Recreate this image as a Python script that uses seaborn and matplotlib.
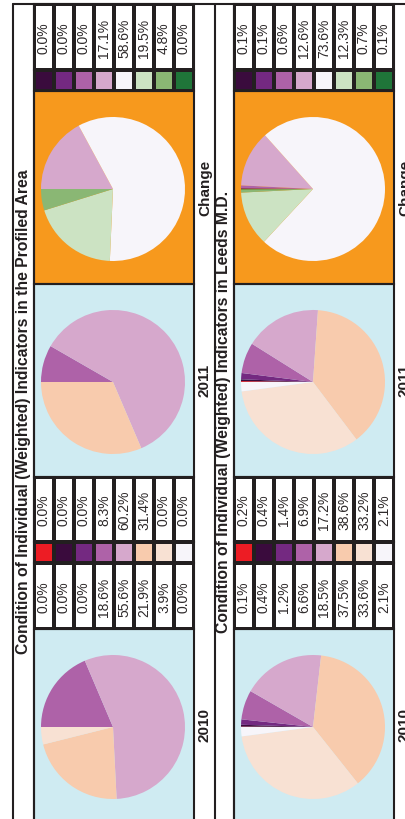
import numpy as np
import matplotlib
matplotlib.use('Agg')
import matplotlib.pyplot as plt
from matplotlib.colors import ListedColormap
from matplotlib.patches import Rectangle
import seaborn as sns

sns.set_theme(style='white')
plt.rcParams['font.family'] = ['Liberation Sans', 'DejaVu Sans']

W, H = 406, 820
inkColour = '#231F20'

# category colours (condition bands and change bands)
conditionColours = ['#ED1C24', '#3A0B3D', '#742981', '#AE62A8', '#D6A8CC', '#F8CBAD', '#F8E1D3', '#F7F5FA']
changeColours = ['#3A0B3D', '#742981', '#AE62A8', '#D6A8CC', '#F7F5FA', '#CCE3C3', '#8AB774', '#1F7539']

# percentages per band
profiled2010 = [0.0, 0.0, 0.0, 18.6, 55.6, 21.9, 3.9, 0.0]
profiled2011 = [0.0, 0.0, 0.0, 8.3, 60.2, 31.4, 0.0, 0.0]
profiledChange = [0.0, 0.0, 0.0, 17.1, 58.6, 19.5, 4.8, 0.0]
leeds2010 = [0.1, 0.4, 1.2, 6.6, 18.5, 37.5, 33.6, 2.1]
leeds2011 = [0.2, 0.4, 1.4, 6.9, 17.2, 38.6, 33.2, 2.1]
leedsChange = [0.1, 0.1, 0.6, 12.6, 73.6, 12.3, 0.7, 0.1]

panelTitles = ['Condition of Individual (Weighted) Indicators in the Profiled Area',
               'Condition of Individual (Weighted) Indicators in Leeds M.D.']
pieLabels = ['2010', '2011', 'Change']

panels = [
    {'title': panelTitles[0], 'y2010': profiled2010, 'y2011': profiled2011, 'change': profiledChange, 'dx': 0},
    {'title': panelTitles[1], 'y2010': leeds2010, 'y2011': leeds2011, 'change': leedsChange, 'dx': 200},
]

fig = plt.figure(figsize=(W / 100, H / 100), dpi=100)


def addAxes(x0, y0, x1, y1, z=1):
    # pixel box (y measured from the top) -> figure axes
    return fig.add_axes([x0 / W, 1 - y1 / H, (x1 - x0) / W, (y1 - y0) / H], zorder=z)


bg = addAxes(0, 0, W, H, z=0)
bg.set_xlim(0, W)
bg.set_ylim(H, 0)
bg.axis('off')

fg = addAxes(0, 0, W, H, z=10)
fg.set_xlim(0, W)
fg.set_ylim(H, 0)
fg.axis('off')
fg.patch.set_alpha(0)


def drawValues(vals, box):
    ax = addAxes(*box, z=2)
    labels = np.array([[f'{v:.1f}%' for v in vals]])
    sns.heatmap(np.zeros((1, len(vals))), ax=ax, cmap=ListedColormap(['white']), cbar=False,
                annot=labels, fmt='', linewidths=1.5, linecolor=inkColour,
                xticklabels=False, yticklabels=False,
                annot_kws={'rotation': 90, 'fontsize': 10, 'color': '#2E2A2B'})


def drawSwatches(colours, box):
    ax = addAxes(*box, z=2)
    sns.heatmap(np.arange(len(colours)).reshape(1, -1), ax=ax, cmap=ListedColormap(colours),
                vmin=-0.5, vmax=len(colours) - 0.5, cbar=False, linewidths=1.5, linecolor=inkColour,
                xticklabels=False, yticklabels=False)


def drawPie(vals, colours, cx, cy, r=72):
    ax = addAxes(cx - r, cy - r, cx + r, cy + r, z=3)
    ax.pie(vals, colors=colours, startangle=180, counterclock=False,
           wedgeprops={'linewidth': 0}, radius=1)
    ax.set_xlim(-1, 1)
    ax.set_ylim(-1, 1)
    ax.axis('off')


for p in panels:
    dx = p['dx']
    x0, x1 = 34 + dx, 194 + dx
    boxes = {'Change': (92, 285, '#F7991D'), '2011': (285, 478, '#CFEBF2'), '2010': (630, 823, '#CFEBF2')}
    for name, (y0, y1, fc) in boxes.items():
        bg.add_patch(Rectangle((x0, y0), x1 - x0, y1 - y0, facecolor=fc, edgecolor='none'))
        fg.add_patch(Rectangle((x0, y0), x1 - x0, y1 - y0, facecolor='none', edgecolor=inkColour, lw=1.5))
        fg.text(205 + dx, (y0 + y1) / 2 - 1, name, rotation=90, ha='center', va='center',
                fontsize=11, fontweight='bold', color=inkColour)

    drawPie(p['change'], changeColours, 113 + dx, 190)
    drawPie(p['y2011'], conditionColours, 113 + dx, 383)
    drawPie(p['y2010'], conditionColours, 113 + dx, 728)

    drawValues(p['change'], (x0, 5, x1, 71))
    drawSwatches(changeColours, (x0, 71, x1, 92))
    drawValues(p['y2011'], (x0, 478, x1, 543))
    drawSwatches(conditionColours, (x0, 543, x1, 564))
    drawValues(p['y2010'], (x0, 564, x1, 630))
    for (ya, yb) in [(5, 71), (71, 92), (478, 543), (543, 564), (564, 630)]:
        fg.add_patch(Rectangle((x0, ya), x1 - x0, yb - ya, facecolor='none', edgecolor=inkColour, lw=1.5))

    # panel frame and title strip
    fg.plot([x0, x0], [5, H], color=inkColour, lw=1.5)
    fg.text(24 + dx, 412, p['title'], rotation=90, ha='center', va='center',
            fontsize=11.3, fontweight='bold', color=inkColour)

fg.plot([13, 13], [5, H], color=inkColour, lw=1.5)
fg.plot([215, 215], [5, H], color=inkColour, lw=1.5)
fg.plot([13, W], [5, 5], color=inkColour, lw=1.5)

fig.savefig('out.png', dpi=100)
